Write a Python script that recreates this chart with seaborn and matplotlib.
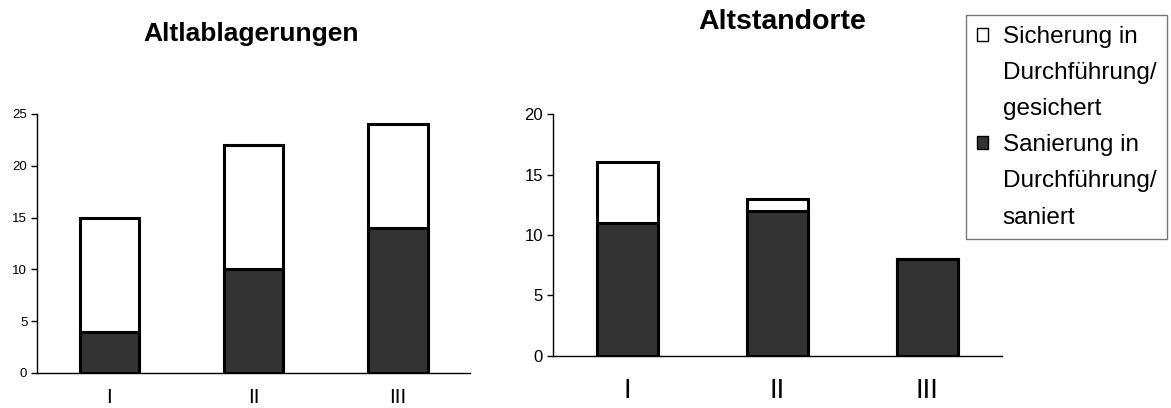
import numpy as np
import pandas as pd
import seaborn as sns
import matplotlib.pyplot as plt
from matplotlib.patches import Patch

sns.set_style("white")
plt.rcParams['font.family'] = ['Liberation Sans', 'DejaVu Sans']
plt.rcParams['text.color'] = 'black'
plt.rcParams['xtick.color'] = 'black'
plt.rcParams['ytick.color'] = 'black'

categories = ["I", "II", "III"]
# Altlablagerungen
alt_saniert = [4, 10, 14]
alt_gesichert = [11, 12, 10]
# Altstandorte
std_saniert = [11, 12, 8]
std_gesichert = [5, 1, 0]

dark = "#333333"

def draw(ax, saniert, gesichert, ymax, yfs, xfs, xpad):
    df = pd.DataFrame({"cat": categories,
                       "saniert": saniert,
                       "total": np.array(saniert) + np.array(gesichert)})
    sns.barplot(data=df, x="cat", y="total", color="white", edgecolor="black",
                linewidth=2.2, width=0.41, saturation=1, ax=ax)
    sns.barplot(data=df, x="cat", y="saniert", color=dark, edgecolor="black",
                linewidth=2.2, width=0.41, saturation=1, ax=ax)
    ax.set_xlim(-0.5, 2.5)
    ax.set_ylim(0, ymax)
    ax.set_yticks(range(0, ymax + 1, 5))
    ax.set_xlabel("")
    ax.set_ylabel("")
    sns.despine(ax=ax)
    for s in ["left", "bottom"]:
        ax.spines[s].set_color("black")
        ax.spines[s].set_linewidth(1)
    ax.set_xticks([-0.5, 0.5, 1.5, 2.5], minor=True)
    ax.tick_params(axis="x", which="major", length=0, labelsize=xfs, pad=xpad)
    ax.tick_params(axis="x", which="minor", length=5, width=1, direction="out", color="black")
    ax.tick_params(axis="y", length=4, width=1, direction="out", color="black",
                   labelsize=yfs, left=True, pad=3)

fig = plt.figure(figsize=(11.71, 4.08), dpi=100)
ax1 = fig.add_axes([0.0316, 0.0858, 0.370, 0.635])
ax2 = fig.add_axes([0.472, 0.1275, 0.384, 0.593])

draw(ax1, alt_saniert, alt_gesichert, 25, 9.5, 15, 11)
draw(ax2, std_saniert, std_gesichert, 20, 12, 20, 16)

fig.text(0.2143, 0.917, "Altlablagerungen", ha="center", va="center", fontsize=19, fontweight="bold")
fig.text(0.668, 0.946, "Altstandorte", ha="center", va="center", fontsize=20.5, fontweight="bold")

# legend: one row per text line, handle only on the first line of each entry
blank = Patch(facecolor="none", edgecolor="none")
handles = [Patch(facecolor="white", edgecolor="black", linewidth=1), blank, blank,
           Patch(facecolor=dark, edgecolor="black", linewidth=1), blank, blank]
labels = ["Sicherung in", "Durchführung/", "gesichert",
          "Sanierung in", "Durchführung/", "saniert"]
leg = fig.legend(handles, labels, loc="upper left", bbox_to_anchor=(0.825, 0.963),
                 fontsize=17.5, frameon=True, fancybox=False, handlelength=0.45,
                 handleheight=0.45, handletextpad=0.6, borderpad=0.45, labelspacing=0.58,
                 borderaxespad=0)
leg.get_frame().set_edgecolor("#555555")
leg.get_frame().set_linewidth(1)

fig.savefig("out.png", dpi=100)
